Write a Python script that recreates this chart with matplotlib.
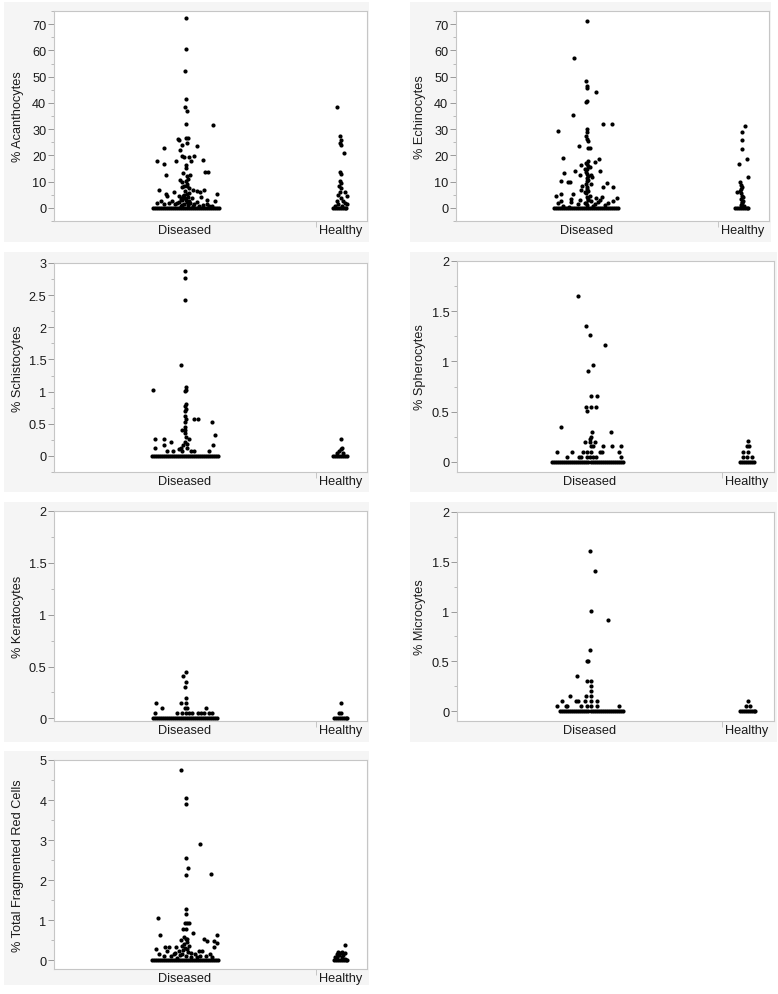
import matplotlib
matplotlib.use('Agg')
import matplotlib.pyplot as plt
from matplotlib.patches import Rectangle
from matplotlib.ticker import MultipleLocator, FuncFormatter

groups = ['Diseased', 'Healthy']

# % Acanthocytes
acan_dis_vals = [72.3, 60.6, 52.3, 41.3, 38.6, 36.8, 31.8, 31.5, 26.3, 26.8, 26.6, 23.4, 22.9, 24.1, 24.6, 22.2, 25.7,
                 17.7, 16.9, 18.0, 19.9, 19.3, 19.3, 19.6, 17.8, 18.2, 16.4, 15.1, 12.7, 13.6, 13.6, 12.3, 13.3, 12.7,
                 10.7, 10.4, 9.1, 8.5, 7.9, 7.5, 6.9, 6.5, 7.0, 6.9, 6.0, 5.2, 6.0, 5.3, 4.7, 5.3, 4.7, 4.1, 3.7, 2.9,
                 2.5, 2.8, 2.5, 3.0, 2.2, 1.9, 1.8, 1.9, 2.2, 1.5, 1.3, 1.3, 1.1, 0.6, 0.6, 4.7, 6.6, 8.5, 9.8, 11.0,
                 3.8, 2.8, 3.4, 0.8, 1.2, 1.6, 2.0, 2.4, 3.1, 3.6, 4.3, 5.0, 5.6, 0.9, 1.4, 0.7, 1.0]
acan_dis_jit = [1, 1, 0, 1, 0, 2, 1, 28, -7, 1, 3, 12, -21, -3, 2, -5, -6,
                -28, -21, -9, -3, -1, 4, 9, 6, 18, 1, 1, -19, 20, 23, 2, -2, 5,
                -5, 1, 2, -1, -3, 4, -26, 12, 8, 19, -11, 32, 15, -19, -18, 2, -6, 16, 7, 22,
                30, -24, -13, -3, 12, -28, -16, -8, 2, 22, -21, 9, -3, 24, 27, -2, 0, 2, -3, 3,
                0, 4, -4, -4, 3, -1, 5, -6, 1, -3, 3, -1, 4, 8, -10, 14, 18]
acan_dis_zero = [-32, -30, -28, -26, -24, -22, -20, -18, -16, -14, -12, -10, -8, -6, -4, -2, 0,
                 2, 4, 6, 8, 10, 12, 14, 16, 18, 20, 22, 24, 26, 28, 30, 32, 34]
acan_hea_vals = [38.6, 27.2, 25.7, 24.8, 24.1, 20.8, 13.8, 13.0, 10.4, 9.4, 8.5, 7.6, 6.2, 6.2, 4.7, 5.0,
                 3.8, 2.8, 2.8, 1.9, 1.3, 1.5, 0.9, 0.6]
acan_hea_jit = [-3, 0, 1, 0, 1, 4, 0, 1, 0, 1, -1, 1, 0, 5, 7, -2, 1, -3, 3, 5, 7, -2, -5, 2]
acan_hea_zero = [-7, -5, -3, -1, 1, 3, 5, 6]

# % Echinocytes
echi_dis_vals = [71.3, 57.0, 48.4, 46.4, 45.7, 44.2, 40.9, 40.5, 35.3, 32.0, 32.0, 29.3, 29.9, 28.8, 27.3, 26.3,
                 25.3, 23.4, 23.0, 23.0, 19.1, 17.7, 16.8, 16.5, 17.4, 18.7, 15.5, 14.2, 14.2, 14.9, 13.0, 13.3,
                 12.7, 12.7, 11.7, 10.2, 9.7, 9.7, 10.4, 9.4, 9.1, 8.5, 8.1, 7.9, 7.2, 6.0, 6.9, 5.2, 4.7, 5.2,
                 4.7, 4.3, 3.7, 3.7, 3.4, 2.8, 3.0, 2.8, 3.0, 2.2, 1.9, 1.9, 1.9, 3.4, 1.5, 2.5, 0.9,
                 1.0, 2.0, 3.0, 4.0, 5.5, 6.5, 8.0, 9.0, 10.8, 11.5, 12.2, 13.6, 15.0, 16.0, 17.0, 0.6, 1.3, 2.4,
                 0.5, 1.1]
echi_dis_jit = [0, -13, -1, 0, 0, 9, 0, -1, -14, 16, 25, -29, 0, 0, -1, 0,
                1, -8, 1, 3, -24, 1, 0, -6, 8, 12, 3, -12, 13, -2, 0, -23,
                -7, 4, 5, -26, -19, -17, 0, 20, 4, -5, 16, 26, 0, -2, -6, -26, -31, -14,
                3, 15, 30, 9, -16, 4, 13, -26, -7, -16, -29, 21, -2, 1, 8, 26, -24,
                0, -1, 1, 0, -1, 1, 0, -1, 1, 0, 1, -1, 0, 1, -1, 6, -9, 11,
                -18, 18]
echi_dis_zero = [-33, -31, -29, -27, -25, -23, -21, -19, -17, -15, -13, -11, -9, -7, -5, -3, -1,
                 1, 3, 5, 7, 9, 11, 13, 15, 17, 19, 21, 23, 25, 27, 29, 31]
echi_hea_vals = [31.3, 29.0, 25.9, 22.6, 18.7, 16.9, 11.6, 9.7, 8.9, 7.9, 6.2, 6.6, 4.7, 3.4, 2.8, 1.9, 1.1,
                 5.5, 4.0, 2.3, 0.6, 7.2]
echi_hea_jit = [3, 0, 0, 0, 5, -3, 6, -2, -1, 0, -5, -2, 0, -1, 1, 0, -1, -1, 1, 0, 2, -1]
echi_hea_zero = [-7, -5, -3, -1, 1, 3, 5, 6]

# % Schistocytes
schi_dis_vals = [2.87, 2.77, 2.42, 1.42, 1.02, 1.07, 1.03, 1.01, 0.81, 0.78, 0.73, 0.70, 0.62, 0.57, 0.57,
                 0.57, 0.52, 0.52, 0.45, 0.41, 0.40, 0.36, 0.32, 0.29, 0.27, 0.27, 0.27, 0.17, 0.22, 0.12,
                 0.17, 0.21, 0.17, 0.13, 0.11, 0.13, 0.18, 0.07, 0.07, 0.07, 0.07, 0.08, 0.07]
schi_dis_jit = [0, 0, 0, -4, -32, 1, 1, 0, 1, 0, 1, 0, 0, 1, 9,
                13, 27, 0, 0, -3, 0, 0, 30, 1, -30, -21, 4, 28, -14, -30,
                -21, 0, -2, -4, -6, 2, 2, 9, -18, -12, 24, -3, 6]
schi_dis_zero = [-33, -31, -29, -27, -25, -23, -21, -19, -17, -15, -13, -11, -9, -7, -5, -3, -1,
                 1, 3, 5, 7, 9, 11, 13, 15, 17, 19, 21, 23, 25, 27, 29, 31, 33]
schi_hea_vals = [0.27, 0.13, 0.10, 0.08, 0.05, 0.05]
schi_hea_jit = [1, 2, 1, -1, 3, -3]
schi_hea_zero = [-7, -5, -3, -1, 1, 3, 5, 7]

# % Spherocytes
sphe_dis_vals = [1.65, 1.35, 1.26, 1.16, 0.96, 0.91, 0.66, 0.66, 0.55, 0.55, 0.55, 0.51, 0.35, 0.30, 0.30,
                 0.25, 0.23, 0.20, 0.20, 0.20, 0.16, 0.16, 0.16, 0.16, 0.16,
                 0.10, 0.10, 0.10, 0.10, 0.10, 0.10, 0.10, 0.10,
                 0.05, 0.05, 0.05, 0.05, 0.05, 0.05, 0.05, 0.05]
sphe_dis_jit = [-11, -3, 0, 15, 3, -1, 1, 7, -3, 1, 6, -2, -28, 2, 21,
                1, 0, -4, 0, 5, 13, 22, 31, 1, 3,
                -32, -17, -6, -2, 1, 10, 12, 29,
                -22, -10, -8, -2, 0, 3, 6, 31]
sphe_dis_zero = [-37, -35, -33, -31, -29, -27, -25, -23, -21, -19, -17, -15, -13, -11, -9, -7, -5, -3, -1,
                 1, 3, 5, 7, 9, 11, 13, 15, 17, 19, 21, 23, 25, 27, 29, 31, 33]
sphe_hea_vals = [0.21, 0.16, 0.16, 0.10, 0.10, 0.05, 0.05, 0.05]
sphe_hea_jit = [1, 0, 2, -4, 1, -4, 0, 5]
sphe_hea_zero = [-7, -5, -3, -1, 1, 3, 5, 7]

# % Keratocytes
kera_dis_vals = [0.45, 0.41, 0.35, 0.30, 0.20, 0.15, 0.15, 0.15, 0.10, 0.10, 0.10, 0.10,
                 0.05, 0.05, 0.05, 0.05, 0.05, 0.05, 0.05, 0.05, 0.05, 0.05, 0.05]
kera_dis_jit = [1, -2, 1, 0, 1, -29, -4, 1, -23, 0, 2, 21,
                -30, -8, -3, 1, 4, 7, 13, 16, 19, 24, 27]
kera_dis_zero = [-32, -30, -28, -26, -24, -22, -20, -18, -16, -14, -12, -10, -8, -6, -4, -2, 0,
                 2, 4, 6, 8, 10, 12, 14, 16, 18, 20, 22, 24, 26, 28, 30, 32]
kera_hea_vals = [0.15, 0.05, 0.05]
kera_hea_jit = [1, -1, 1]
kera_hea_zero = [-6, -4, -2, 0, 2, 4, 6, 7]

# % Microcytes
micr_dis_vals = [1.61, 1.41, 1.01, 0.91, 0.61, 0.50, 0.50, 0.35, 0.30, 0.30, 0.25, 0.20, 0.15, 0.15, 0.15,
                 0.10, 0.10, 0.10, 0.10, 0.10, 0.10, 0.05, 0.05, 0.05, 0.05, 0.05, 0.05, 0.05, 0.05]
micr_dis_jit = [0, 5, 1, 18, 0, -2, -1, -12, -2, 1, 1, 1, -3, 1, -19,
                -13, -11, -27, -4, 1, 7, -32, -23, -22, -8, -2, 1, 7, 29]
micr_dis_zero = [-29, -27, -25, -23, -21, -19, -17, -15, -13, -11, -9, -7, -5, -3, -1,
                 1, 3, 5, 7, 9, 11, 13, 15, 17, 19, 21, 23, 25, 27, 29, 31, 33]
micr_hea_vals = [0.10, 0.05, 0.05]
micr_hea_jit = [1, -1, 3]
micr_hea_zero = [-7, -5, -3, -1, 1, 3, 5, 7, 8]

# % Total Fragmented Red Cells
frag_dis_vals = [4.76, 4.06, 3.91, 2.91, 2.56, 2.31, 2.12, 2.16, 1.27, 1.16, 1.06, 0.94, 0.92, 0.92, 0.77,
                 0.77, 0.67, 0.62, 0.62, 0.57, 0.54, 0.52, 0.52, 0.47, 0.44, 0.48, 0.50, 0.36, 0.36, 0.32,
                 0.32, 0.32, 0.32, 0.27, 0.23, 0.22, 0.22, 0.23, 0.27, 0.19, 0.15, 0.15, 0.15, 0.15, 0.15,
                 0.11, 0.11, 0.11, 0.11, 0.07, 0.07,
                 0.40, 0.45, 0.30, 0.25, 0.20, 0.12, 0.08, 0.05, 0.18, 0.10]
frag_dis_jit = [-4, 1, 1, 15, 1, 3, 1, 26, 1, 1, -27, 2, 0, 4, -2,
                1, 8, -25, 32, -1, 1, 2, 19, 22, 32, 29, -4, 4, -3, 29,
                -20, -16, -9, -29, -18, 14, 17, -6, 2, 6, -26, -11, 10, 25, -3,
                21, -21, -14, 1, 12, 27,
                -1, 2, 0, -2, 3, -5, 6, -8, -10, 15]
frag_dis_zero = [-33, -31, -29, -27, -25, -23, -21, -19, -17, -15, -13, -11, -9, -7, -5, -3, -1,
                 1, 3, 5, 7, 9, 11, 13, 15, 17, 19, 21, 23, 25, 27, 29, 31, 33]
frag_hea_vals = [0.37, 0.21, 0.19, 0.21, 0.19, 0.15, 0.12, 0.12, 0.08, 0.09, 0.07, 0.04]
frag_hea_jit = [5, -2, 0, 2, 5, -3, -1, 3, -5, -3, 2, 5]
frag_hea_zero = [-6, -4, -2, 0, 2, 4, 6, 7]

W, H = 778, 995
plt.rcParams['font.family'] = ['Liberation Sans', 'DejaVu Sans']
fig = plt.figure(figsize=(W / 100, H / 100), dpi=100)

centers = [0.418, 0.915]
split = 0.837
span = 313.0  # plot width in px, jitter is given in px
fs = 9.2
txt = '#1a1a1a'


def fig_rect(x0, y0, x1, y1):
    return [x0 / W, 1 - y1 / H, (x1 - x0) / W, (y1 - y0) / H]


def draw_panel(bg, box, ylabel, ylim, step, dis, hea):
    r = fig_rect(*bg)
    fig.add_artist(Rectangle(r[:2], r[2], r[3], transform=fig.transFigure,
                             facecolor='#f5f5f5', edgecolor='none', zorder=-1))
    ax = fig.add_axes(fig_rect(*box))
    ax.set_facecolor('white')
    for s in ax.spines.values():
        s.set_color('#c6c6c6')
        s.set_linewidth(0.8)
    for c, (vals, jit, zero) in zip(centers, [dis, hea]):
        assert len(vals) == len(jit)
        xs = [c + j / span for j in jit] + [c + j / span for j in zero]
        ys = list(vals) + [0] * len(zero)
        ax.scatter(xs, ys, s=9, c='black', linewidths=0, clip_on=False, zorder=3)
    ax.set_xlim(0, 1)
    ax.set_ylim(*ylim)
    ax.yaxis.set_major_locator(MultipleLocator(step))
    ax.yaxis.set_minor_locator(MultipleLocator(step / 2))
    ax.yaxis.set_major_formatter(FuncFormatter(lambda v, p: f'{v:g}'))
    ax.tick_params(axis='y', which='major', length=4, width=0.7, color='#9a9a9a',
                   labelsize=fs, labelcolor=txt, pad=1.5)
    ax.tick_params(axis='y', which='minor', length=2.5, width=0.6, color='#b0b0b0')
    ax.set_xticks(centers, labels=groups)
    ax.set_xticks([split], minor=True)
    ax.tick_params(axis='x', which='major', length=0, labelsize=fs,
                   labelcolor=txt, pad=2.5)
    ax.tick_params(axis='x', which='minor', length=4, width=0.7, color='#c6c6c6')
    ax.set_ylabel(ylabel, fontsize=fs, color=txt)
    ax.yaxis.set_label_coords(-0.097, 0.5)
    return ax


draw_panel((4, 3, 369, 243), (54, 12, 367, 222), '% Acanthocytes', (-5, 75), 10,
           (acan_dis_vals, acan_dis_jit, acan_dis_zero), (acan_hea_vals, acan_hea_jit, acan_hea_zero))
draw_panel((410, 3, 771, 243), (456, 12, 769, 222), '% Echinocytes', (-5, 75), 10,
           (echi_dis_vals, echi_dis_jit, echi_dis_zero), (echi_hea_vals, echi_hea_jit, echi_hea_zero))
draw_panel((4, 253, 369, 493), (54, 264, 367, 473), '% Schistocytes', (-0.25, 3), 0.5,
           (schi_dis_vals, schi_dis_jit, schi_dis_zero), (schi_hea_vals, schi_hea_jit, schi_hea_zero))
draw_panel((410, 253, 777, 493), (457, 262, 774, 473), '% Spherocytes', (-0.1, 2), 0.5,
           (sphe_dis_vals, sphe_dis_jit, sphe_dis_zero), (sphe_hea_vals, sphe_hea_jit, sphe_hea_zero))
draw_panel((4, 503, 369, 743), (54, 512, 367, 722), '% Keratocytes', (-0.025, 2), 0.5,
           (kera_dis_vals, kera_dis_jit, kera_dis_zero), (kera_hea_vals, kera_hea_jit, kera_hea_zero))
draw_panel((410, 503, 777, 743), (457, 513, 774, 722), '% Microcytes', (-0.1, 2), 0.5,
           (micr_dis_vals, micr_dis_jit, micr_dis_zero), (micr_hea_vals, micr_hea_jit, micr_hea_zero))
draw_panel((4, 752, 369, 986), (54, 761, 367, 970), '% Total Fragmented Red Cells', (-0.22, 5), 1,
           (frag_dis_vals, frag_dis_jit, frag_dis_zero), (frag_hea_vals, frag_hea_jit, frag_hea_zero))

fig.savefig('out.png', dpi=100, facecolor='white')
